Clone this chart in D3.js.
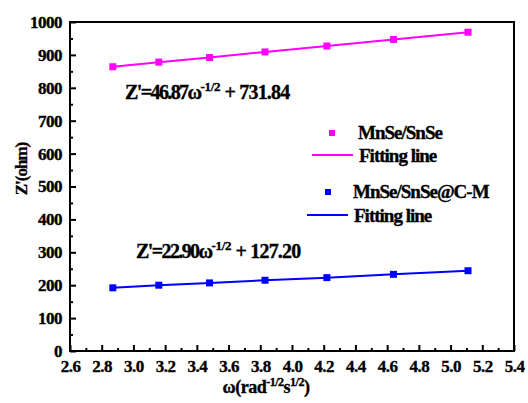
<!DOCTYPE html>
<html>
<head>
<meta charset="utf-8">
<script src="https://cdn.jsdelivr.net/npm/d3@7"></script>
</head>
<body style="margin:0;background:#fff">
<svg width="528" height="403"></svg>
<script>
// data
const omega = [2.87, 3.16, 3.48, 3.83, 4.22, 4.64, 5.11];
const mnseSnse = [864, 878, 892, 909, 927, 947, 969];
const mnseSnseCM = [192, 200, 207, 215, 223, 233, 244];
const xTicks = [2.6, 2.8, 3.0, 3.2, 3.4, 3.6, 3.8, 4.0, 4.2, 4.4, 4.6, 4.8, 5.0, 5.2, 5.4];
const yTicks = [0, 100, 200, 300, 400, 500, 600, 700, 800, 900, 1000];

const FONT = "'Liberation Serif', 'DejaVu Serif', serif";

const margin = { top: 22, right: 14, bottom: 52, left: 70 },
    width = 528 - margin.left - margin.right,
    height = 403 - margin.top - margin.bottom;

const svg = d3.select("svg")
    .append("g")
    .attr("transform", "translate(" + margin.left + "," + margin.top + ")");

const x = d3.scaleLinear().domain([2.6, 5.4]).range([0, width]);
const y = d3.scaleLinear().domain([0, 1000]).range([height, 0]);

function txt(sel, size) {
    return sel.style("font-family", FONT).style("font-weight", 700)
        .style("font-size", size + "px").attr("fill", "#000")
        .attr("stroke", "#000").attr("stroke-width", 0.35);
}

// minor ticks
svg.append("g")
    .attr("transform", "translate(0," + height + ")")
    .call(d3.axisBottom(x).tickValues(d3.range(2.7, 5.4, 0.2)).tickSize(-3).tickFormat(""))
    .call(g => g.select(".domain").remove())
    .selectAll("line").attr("stroke-width", 2);
svg.append("g")
    .call(d3.axisLeft(y).tickValues(d3.range(50, 1000, 100)).tickSize(-3).tickFormat(""))
    .call(g => g.select(".domain").remove())
    .selectAll("line").attr("stroke-width", 2);

// major ticks
const xAxis = svg.append("g")
    .attr("transform", "translate(0," + height + ")")
    .call(d3.axisBottom(x).tickValues(xTicks).tickSize(-6).tickPadding(9).tickFormat(d3.format(".1f")));
xAxis.select(".domain").remove();
xAxis.selectAll("line").attr("stroke-width", 2);
txt(xAxis.selectAll("text"), 17).attr("letter-spacing", "-0.5");

const yAxis = svg.append("g")
    .call(d3.axisLeft(y).tickValues(yTicks).tickSize(-6).tickPadding(8).tickFormat(d3.format("d")));
yAxis.select(".domain").remove();
yAxis.selectAll("line").attr("stroke-width", 2);
txt(yAxis.selectAll("text"), 17).attr("letter-spacing", "-0.5");

// frame
svg.append("rect")
    .attr("width", width).attr("height", height)
    .attr("fill", "none").attr("stroke", "#000").attr("stroke-width", 2);

const line = d3.line().x((d, i) => x(omega[i])).y(d => y(d));

const series = [
    { values: mnseSnse, color: "#ff00ff" },
    { values: mnseSnseCM, color: "#0000ff" }
];

series.forEach(s => {
    svg.append("path")
        .datum(s.values)
        .attr("fill", "none")
        .attr("stroke", s.color)
        .attr("stroke-width", 2)
        .attr("d", line);
    svg.selectAll(null)
        .data(s.values)
        .enter().append("rect")
        .attr("x", (d, i) => x(omega[i]) - 3.5)
        .attr("y", d => y(d) - 3.5)
        .attr("width", 7).attr("height", 7)
        .attr("fill", s.color);
});

// equations
function equation(tx, ty, slope, icpt) {
    const t = txt(svg.append("text"), 20)
        .attr("x", tx).attr("y", ty)
        .attr("letter-spacing", "-1.6");
    t.append("tspan").text("Z'=" + slope + "ω");
    t.append("tspan").attr("dy", -8).style("font-size", "13px").attr("letter-spacing", "-0.3").text("-1/2");
    t.append("tspan").attr("dy", 8).attr("letter-spacing", "-0.8").text(" + " + icpt);
}
equation(125 - margin.left, 99 - margin.top, "46.87", "731.84");
equation(136 - margin.left, 258 - margin.top, "22.90", "127.20");

// legend
const legend = [
    { label: "MnSe/SnSe", color: "#ff00ff", sq: [332, 133], tx: 358, ty: 139, ln: [312, 353, 155], lx: 359, ly: 162 },
    { label: "MnSe/SnSe@C-M", color: "#0000ff", sq: [328, 192], tx: 353, ty: 198, ln: [307, 348, 215], lx: 354, ly: 222 }
];
const lg = svg.append("g").attr("transform", "translate(" + (-margin.left) + "," + (-margin.top) + ")");
legend.forEach(l => {
    lg.append("rect").attr("x", l.sq[0] - 3).attr("y", l.sq[1] - 3).attr("width", 6).attr("height", 6).attr("fill", l.color);
    txt(lg.append("text"), 19).attr("x", l.tx).attr("y", l.ty).attr("letter-spacing", "-1").text(l.label);
    lg.append("line").attr("x1", l.ln[0]).attr("x2", l.ln[1]).attr("y1", l.ln[2]).attr("y2", l.ln[2])
        .attr("stroke", l.color).attr("stroke-width", 2);
    txt(lg.append("text"), 19).attr("x", l.lx).attr("y", l.ly).attr("letter-spacing", "-1").text("Fitting line");
});

// axis titles
const xt = txt(svg.append("text"), 18)
    .attr("x", 196).attr("y", height + 42)
    .attr("text-anchor", "middle")
    .attr("letter-spacing", "-0.5");
xt.append("tspan").text("ω(rad");
xt.append("tspan").attr("dy", -7).style("font-size", "12px").text("-1/2");
xt.append("tspan").attr("dy", 7).text("s");
xt.append("tspan").attr("dy", -7).style("font-size", "12px").text("1/2");
xt.append("tspan").attr("dy", 7).text(")");

txt(svg.append("text"), 17)
    .attr("transform", "translate(" + (-43) + ",147) rotate(-90)")
    .attr("text-anchor", "middle")
    .attr("letter-spacing", "-1")
    .text("Z'(ohm)");
</script>
</body>
</html>
